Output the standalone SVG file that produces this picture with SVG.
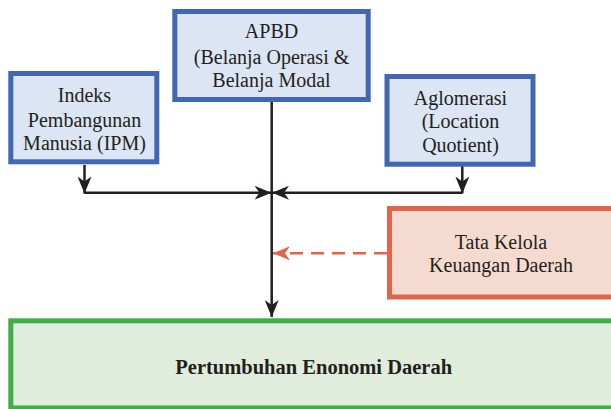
<svg xmlns="http://www.w3.org/2000/svg" width="611" height="409" viewBox="0 0 611 409">
<defs>
<style>
.t{font-family:"Liberation Serif","Times New Roman",serif;font-size:20px;fill:#231f20;text-anchor:middle}
.b{font-weight:bold;font-size:20.5px}
.blue{fill:#dbe5f4;stroke:#4166b2;stroke-width:5}
.red{fill:#f5dbcf;stroke:#e0654c;stroke-width:5}
.green{fill:#e0ecdc;stroke:#40ad49;stroke-width:5}
.ln{fill:none;stroke:#231f20;stroke-width:2.5}
.dash{fill:none;stroke:#e0654c;stroke-width:2.5;stroke-dasharray:13 8}
</style>
<marker id="ah" viewBox="0 0 17 14" refX="17" refY="7" markerWidth="17" markerHeight="14" markerUnits="userSpaceOnUse" orient="auto">
<path d="M0,0 L17,7 L0,14 L5,7 Z" fill="#231f20"/>
</marker>
<marker id="ahr" viewBox="0 0 17 14" refX="17" refY="7" markerWidth="17" markerHeight="14" markerUnits="userSpaceOnUse" orient="auto">
<path d="M0,0 L17,7 L0,14 L5,7 Z" fill="#e0654c"/>
</marker>
</defs>
<rect width="611" height="409" fill="#ffffff"/>
<g id="connectors">
<line class="ln" x1="271.7" y1="102" x2="271.7" y2="317" marker-end="url(#ah)"/>
<line class="ln" x1="84.5" y1="165" x2="84.5" y2="193.5" marker-end="url(#ah)"/>
<line class="ln" x1="84.5" y1="192.8" x2="271.5" y2="192.8" marker-end="url(#ah)"/>
<line class="ln" x1="462.3" y1="166" x2="462.3" y2="193.5" marker-end="url(#ah)"/>
<line class="ln" x1="462.3" y1="192.8" x2="272" y2="192.8" marker-end="url(#ah)"/>
<line class="dash" x1="387" y1="253.3" x2="273" y2="253.3" marker-end="url(#ahr)"/>
</g>
<g id="apbd">
<rect class="blue" x="174.8" y="11.5" width="193.4" height="88"/>
<text class="t" x="271.5" y="38">APBD</text>
<text class="t" x="271.5" y="63.5">(Belanja Operasi &amp;</text>
<text class="t" x="271.5" y="87">Belanja Modal</text>
</g>
<g id="ipm">
<rect class="blue" x="10.8" y="73.5" width="146" height="88.3"/>
<text class="t" x="84.5" y="102.3">Indeks</text>
<text class="t" x="84.5" y="126.7">Pembangunan</text>
<text class="t" x="84.5" y="150">Manusia (IPM)</text>
</g>
<g id="aglomerasi">
<rect class="blue" x="387" y="76.5" width="146" height="87.7"/>
<text class="t" x="460.5" y="105">Aglomerasi</text>
<text class="t" x="460.5" y="128.3">(Location</text>
<text class="t" x="460.5" y="151.7">Quotient)</text>
</g>
<g id="tata-kelola">
<rect class="red" x="389.5" y="208.5" width="230" height="88.5"/>
<text class="t" x="501" y="249.3">Tata Kelola</text>
<text class="t" x="501" y="272.3">Keuangan Daerah</text>
</g>
<g id="pertumbuhan">
<rect class="green" x="10.8" y="320.8" width="610" height="87.2"/>
<text class="t b" x="313.7" y="374">Pertumbuhan Enonomi Daerah</text>
</g>
</svg>
